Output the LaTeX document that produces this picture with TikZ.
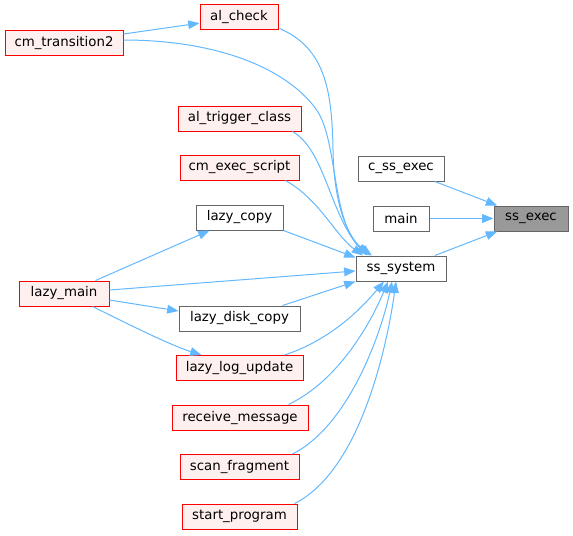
\documentclass[tikz,border=0pt]{standalone}
\usepackage{fontspec}
\setmainfont{DejaVu Sans}
\usetikzlibrary{arrows.meta}
\definecolor{edgec}{HTML}{63B8FF}
\definecolor{redfill}{HTML}{FFF0F0}
\definecolor{grayb}{HTML}{666666}
\definecolor{grayfill}{HTML}{999999}
\tikzset{
  fn/.style={draw=grayb, fill=white, line width=0.75pt, inner sep=0pt,
    minimum height=18.75pt, minimum width={#1*0.75pt}, font=\fontsize{10pt}{12pt}\selectfont},
  rfn/.style={fn=#1, draw=red, fill=redfill},
  cur/.style={fn=#1, draw=grayb, fill=grayfill},
  ed/.style={draw=edgec, line width=0.75pt, -{Triangle[length=8.5pt,width=6.5pt]}}
}
\begin{document}
\begin{tikzpicture}[x=0.75pt,y=-0.75pt]
\useasboundingbox (0,0) rectangle (573,535);
\node[rfn=78]  (alc)  at (239,17.5) {al\_check};
\node[rfn=118] (cmt)  at (64,43.5) {cm\_transition2};
\node[rfn=123] (atc)  at (239.5,118.5) {al\_trigger\_class};
\node[rfn=119] (ces)  at (239.5,167.5) {cm\_exec\_script};
\node[fn=87]   (lcp)  at (239.5,217.5) {lazy\_copy};
\node[fn=86]   (css)  at (401,168.5) {c\_ss\_exec};
\node[fn=56]   (main) at (401,218.5) {main};
\node[cur=74]  (sse)  at (531,218.5) {ss\_exec};
\node[fn=90]   (sss)  at (401,268.5) {ss\_system};
\node[rfn=90]  (lm)   at (64,293.5) {lazy\_main};
\node[fn=121]  (ldc)  at (239.5,318.5) {lazy\_disk\_copy};
\node[rfn=127] (llu)  at (239.5,368) {lazy\_log\_update};
\node[rfn=136] (rm)   at (240,417.5) {receive\_message};
\node[rfn=119] (sf)   at (239.5,467) {scan\_fragment};
\node[rfn=115] (sp)   at (239.5,516.5) {start\_program};

% to ss_exec
\draw[ed] (css) -- (sse);
\draw[ed] (main) -- (sse);
\draw[ed] (sss) -- (sse);
% cm_transition2 -> al_check
\draw[ed] (cmt.east |- 0,34) -- (alc);
% to ss_system from above
\draw[ed] (alc.south east) ++(1,-2) .. controls (325,48) and (332,90) .. (333,150)
   .. controls (334,210) and (350,240) .. ([xshift=-21.75pt]sss.north);
\draw[ed] (cmt.east |- 0,40) .. controls (220,40) and (290,70) .. (318,112)
   .. controls (338,145) and (332,225) .. ([xshift=-23.25pt]sss.north);
\draw[ed] (atc.south east) ++(-9,0) .. controls (325,150) and (330,215) .. ([xshift=-25.5pt]sss.north);
\draw[ed] (ces.south east) ++(-14,0) .. controls (320,200) and (335,235) .. ([xshift=-28.5pt]sss.north);
\draw[ed] (lcp.south east) -- ([yshift=-1.5pt]sss.north west);
\draw[ed] (lm.east |- 0,290) -- (sss.west |- 0,271);
\draw[ed] (ldc.north east) ++(-18,0) -- (sss.south west);
% from below
\draw[ed] (llu.north east) ++(-19,0) .. controls (330,340) and (360,310) .. ([xshift=-12.75pt]sss.south);
\draw[ed] (rm.north east) ++(-20,0) .. controls (340,380) and (372,320) .. ([xshift=-9.75pt]sss.south);
\draw[ed] (sf.north east) ++(-7,0) .. controls (350,425) and (382,330) .. ([xshift=-6.75pt]sss.south);
\draw[ed] (sp.north east) ++(-3,0) .. controls (362,470) and (388,340) .. ([xshift=-3.75pt]sss.south);
% lazy_main fan-out
\draw[ed] (lm.north east) ++(-14,0) -- ([xshift=-22.5pt]lcp.south);
\draw[ed] (lm.east |- 0,300) -- (ldc.west |- 0,311);
\draw[ed] (lm.south east) ++(-17,0) .. controls (130,325) and (170,345) .. ([xshift=-28.5pt]llu.north);
\end{tikzpicture}
\end{document}
